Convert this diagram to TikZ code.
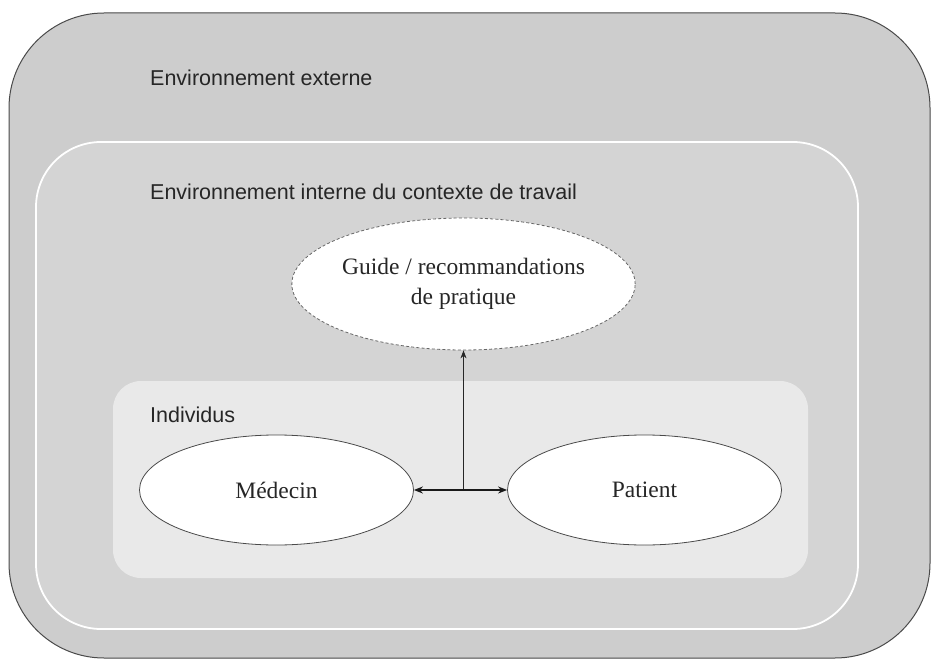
\documentclass[tikz,border=0pt]{standalone}
\usepackage{fontspec}
\setmainfont{Liberation Serif}
\setsansfont{Liberation Sans}
\usetikzlibrary{shapes.geometric,arrows.meta}

\definecolor{outerfill}{HTML}{CDCDCD}
\definecolor{innerfill}{HTML}{D4D4D4}
\definecolor{indivfill}{HTML}{E9E9E9}
\definecolor{edgegray}{HTML}{4A4A4A}

\tikzset{
  zone/.style={rectangle, inner sep=0pt},
  zonelabel/.style={anchor=base west, inner sep=0pt, font=\sffamily\fontsize{21.5}{26}\selectfont, text=black!85},
  actor/.style={ellipse, draw=edgegray, line width=0.8pt, fill=white, inner sep=0pt,
    minimum width=274pt, minimum height=110pt, font=\fontsize{23.5}{28}\selectfont, text=black!85},
  guide/.style={ellipse, draw=black!60, line width=0.8pt, dash pattern=on 3pt off 2.2pt, fill=white,
    inner sep=0pt, minimum width=293pt, minimum height=132pt, align=center,
    font=\fontsize{23.5}{30}\selectfont, text=black!85},
  link/.style={line width=1.8pt, black!90, {Stealth[length=9pt,width=7pt]}-{Stealth[length=9pt,width=7pt]}},
  uplink/.style={line width=0.9pt, black!85, -{Stealth[length=8pt,width=6pt]}}
}

\begin{document}
\begin{tikzpicture}[x=1pt, y=-1pt]
  \useasboundingbox (0,0) rectangle (931,660);
  \fill[white] (0,0) rectangle (931,660);

  % nested environments
  \node[zone, fill=outerfill, draw=edgegray, line width=1pt, rounded corners=95pt,
        minimum width=921pt, minimum height=645pt] (external) at (469.5,335.5) {};
  \node[zone, fill=innerfill, draw=white, line width=1.8pt, rounded corners=65pt,
        minimum width=822pt, minimum height=487pt] (internal) at (447,385.5) {};
  \node[zone, fill=indivfill, rounded corners=28pt,
        minimum width=695pt, minimum height=197pt] (individuals) at (460.5,479.5) {};

  % zone titles
  \node[zonelabel] (externaltitle) at (150,86) {Environnement externe};
  \node[zonelabel] (internaltitle) at (150,200) {Environnement interne du contexte de travail};
  \node[zonelabel] (indivtitle) at (150,422) {Individus};

  % actors and practice guide
  \node[actor] (doctor) at (276.5,490) {Médecin};
  \node[actor] (patient) at (644.5,490) {Patient};
  \node[guide] (practice) at (463.5,284) {Guide / recommandations\\de pratique};

  % relations
  \coordinate (junction) at (practice.south |- doctor.east);
  \draw[uplink] (junction) -- (practice.south);
  \draw[link] (doctor.east) -- (patient.west);
\end{tikzpicture}
\end{document}
